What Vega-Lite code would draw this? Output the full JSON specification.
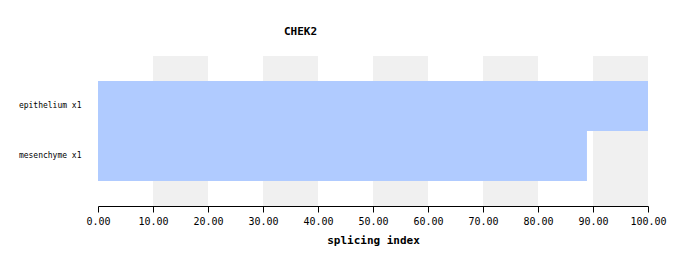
{
  "$schema": "https://vega.github.io/schema/vega-lite/v6.json",
  "autosize": "none",
  "width": 550,
  "height": 150,
  "padding": {"left": 98, "top": 56, "right": 40, "bottom": 60},
  "background": "white",
  "config": {
    "font": "DejaVu Sans Mono",
    "view": {"stroke": null}
  },
  "title": {
    "text": "CHEK2",
    "anchor": "start",
    "frame": "group",
    "dx": 186,
    "offset": 19,
    "fontSize": 11,
    "fontWeight": "bold",
    "font": "DejaVu Sans Mono",
    "color": "black"
  },
  "datasets": {
    "bars": [
      {"tissue": "epithelium x1", "value": 100},
      {"tissue": "mesenchyme x1", "value": 88.9}
    ],
    "bands": [
      {"start": 10, "end": 20},
      {"start": 30, "end": 40},
      {"start": 50, "end": 60},
      {"start": 70, "end": 80},
      {"start": 90, "end": 100}
    ]
  },
  "layer": [
    {
      "data": {"name": "bands"},
      "mark": {"type": "rect", "color": "#f0f0f0"},
      "encoding": {
        "x": {"field": "start", "type": "quantitative", "scale": {"domain": [0, 100], "nice": false}},
        "x2": {"field": "end"}
      }
    },
    {
      "data": {"name": "bars"},
      "mark": {"type": "bar", "color": "#b0cbff"},
      "encoding": {
        "y": {
          "field": "tissue",
          "type": "nominal",
          "sort": null,
          "scale": {"paddingInner": 0, "paddingOuter": 0.5},
          "axis": {
            "title": null,
            "ticks": false,
            "domain": false,
            "labelPadding": 17,
            "labelFontSize": 8,
            "labelColor": "black",
            "labelFont": "DejaVu Sans Mono"
          }
        },
        "x": {
          "field": "value",
          "type": "quantitative",
          "scale": {"domain": [0, 100], "nice": false},
          "axis": {
            "title": "splicing index",
            "titleFontSize": 11,
            "titleFontWeight": "bold",
            "titleColor": "black",
            "titleFont": "DejaVu Sans Mono",
            "titlePadding": 8,
            "values": [0, 10, 20, 30, 40, 50, 60, 70, 80, 90, 100],
            "format": ".2f",
            "grid": false,
            "tickSize": 6,
            "tickColor": "black",
            "domainColor": "black",
            "labelFontSize": 10,
            "labelColor": "black",
            "labelFont": "DejaVu Sans Mono",
            "labelPadding": 4,
            "labelFlush": false
          }
        }
      }
    }
  ]
}
